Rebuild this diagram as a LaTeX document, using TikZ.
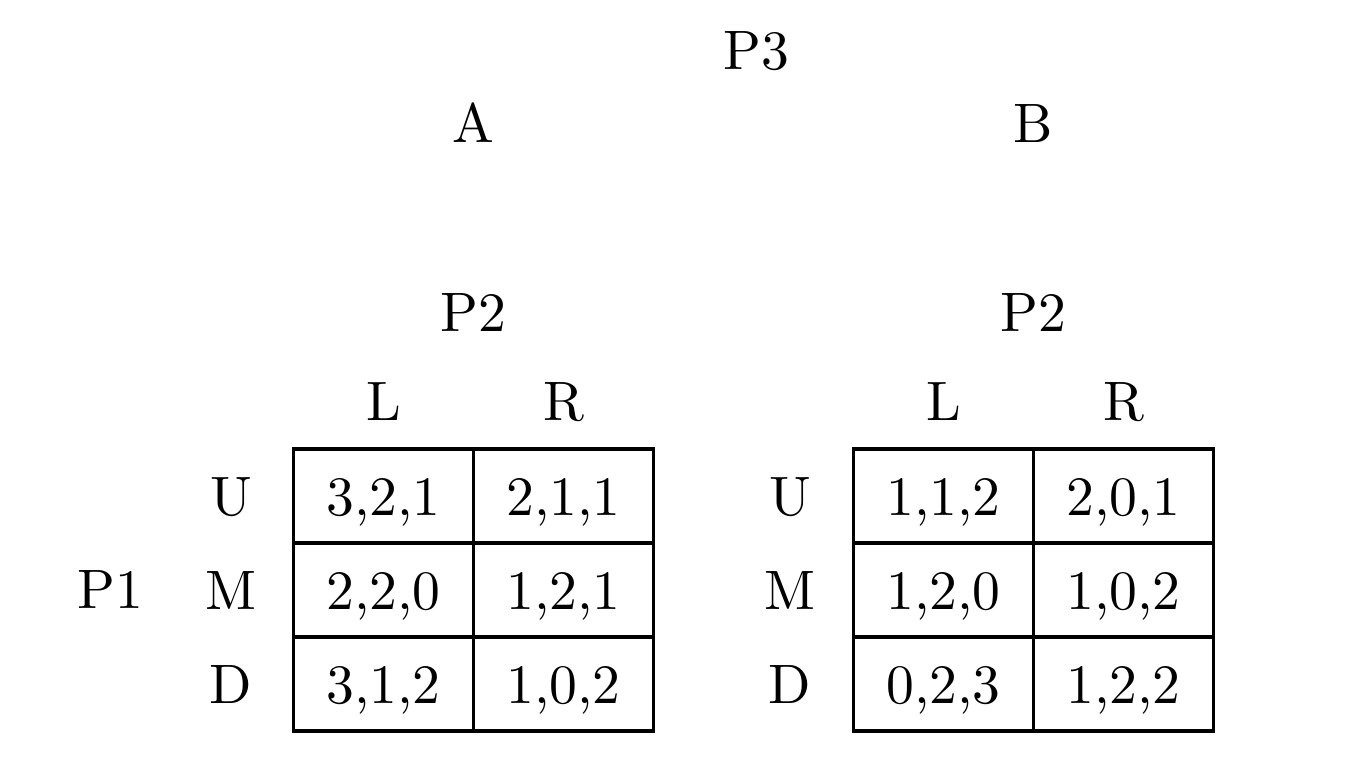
\documentclass[tikz,border=0pt]{standalone}
\usepackage{tikz}
\usetikzlibrary{positioning}
\tikzset{
  lbl/.style={inner sep=0pt, text height=6.84pt, text depth=0pt},
  cell/.style={draw, line width=0.6pt, inner sep=0pt, outer sep=0pt,
    minimum width=32.4pt, minimum height=16.92pt,
    text height=6.84pt, text depth=0pt}
}
\begin{document}
\begin{tikzpicture}[x=0.18pt,y=-0.18pt]
  \useasboundingbox (0,0) rectangle (1368,756);

  % Player 3 and its choices
  \node[lbl] (P3) at (756,50) {P3};
  \node[lbl] (A) at (473.5,123) {A};
  \node[lbl] (B) at (1033.5,123) {B};

  % Table for A
  \node[cell] (a11) at (383.5,496) {3,2,1};
  \node[cell, right=0pt of a11] (a12) {2,1,1};
  \node[cell, below=0pt of a11] (a21) {2,2,0};
  \node[cell, right=0pt of a21] (a22) {1,2,1};
  \node[cell, below=0pt of a21] (a31) {3,1,2};
  \node[cell, right=0pt of a31] (a32) {1,0,2};

  % Table for B
  \node[cell] (b11) at (943.5,496) {1,1,2};
  \node[cell, right=0pt of b11] (b12) {2,0,1};
  \node[cell, below=0pt of b11] (b21) {1,2,0};
  \node[cell, right=0pt of b21] (b22) {1,0,2};
  \node[cell, below=0pt of b21] (b31) {0,2,3};
  \node[cell, right=0pt of b31] (b32) {1,2,2};

  % Player 2 and columns
  \node[lbl] (P2a) at (473.5,312) {P2};
  \node[lbl] (P2b) at (1033.5,312) {P2};
  \node[lbl, above=4.9pt of a11] (La) {L};
  \node[lbl, above=4.9pt of a12] (Ra) {R};
  \node[lbl, above=4.9pt of b11] (Lb) {L};
  \node[lbl, above=4.9pt of b12] (Rb) {R};

  % Player 1 and rows
  \node[lbl] (P1) at (110,589) {P1};
  \node[lbl] (Ua) at (231,496) {U};
  \node[lbl] (Ma) at (231,590) {M};
  \node[lbl] (Da) at (231,684) {D};
  \node[lbl] (Ub) at (790,496) {U};
  \node[lbl] (Mb) at (790,590) {M};
  \node[lbl] (Db) at (790,684) {D};
\end{tikzpicture}
\end{document}
